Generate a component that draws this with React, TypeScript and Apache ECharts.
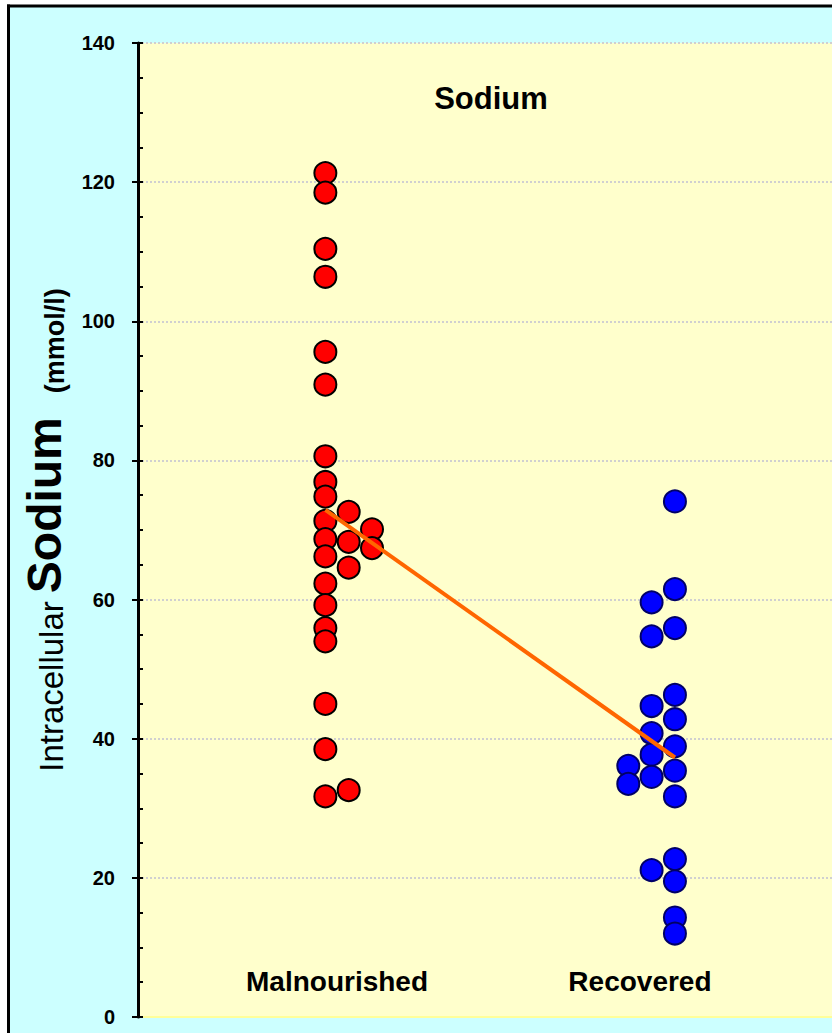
import React, { useEffect, useRef } from 'react';
import * as echarts from 'echarts';

// ---- data ----
const categories = ['Malnourished', 'Recovered'];

// Malnourished: intracellular sodium (mmol/l) and swarm column (0 = left)
const malnourishedValues = [
  121.3, 118.5, 110.4, 106.4, 95.6, 90.9, 80.6, 76.9, 74.8, 71.3, 68.7, 66.2, 62.3,
  59.2, 55.9, 54.0, 45.0, 38.5, 31.7,
  72.6, 68.3, 64.6, 32.6,
  70.1, 67.4,
];
const malnourishedCols = [
  0, 0, 0, 0, 0, 0, 0, 0, 0, 0, 0, 0, 0, 0, 0, 0, 0, 0, 0,
  1, 1, 1, 1,
  2, 2,
];

// Recovered
const recoveredValues = [
  36.1, 33.5,
  59.6, 54.7, 44.7, 40.8, 37.7, 34.5, 21.1,
  74.1, 61.5, 55.9, 46.3, 42.8, 38.9, 35.4, 31.7, 22.7, 19.5, 14.3, 12.0,
];
const recoveredCols = [
  0, 0,
  1, 1, 1, 1, 1, 1, 1,
  2, 2, 2, 2, 2, 2, 2, 2, 2, 2, 2, 2,
];

// mean line (Malnourished -> Recovered)
const meanValues = [72.9, 37.3];
const meanCols = [0, 2];

const FONT = "'Liberation Sans', Arial, Helvetica, sans-serif";
const X_MIN = 0.343;
const X_MAX = 2.634;
const COL_STEP = 0.077;
const xOf = (groupIndex: number, col: number) => groupIndex + 1 + (col - 0.5) * COL_STEP;

export default function App() {
  const ref = useRef<HTMLDivElement>(null);

  useEffect(() => {
    if (!ref.current) return;
    const chart = echarts.init(ref.current, undefined, { renderer: 'svg' });

    const malData = malnourishedValues.map((v, i) => [xOf(0, malnourishedCols[i]), v]);
    const recData = recoveredValues.map((v, i) => [xOf(1, recoveredCols[i]), v]);
    const meanData = meanValues.map((v, i) => [xOf(i, meanCols[i]), v]);

    const option: any = {
      animation: false,
      backgroundColor: '#CCFFFF',
      grid: {
        left: 138,
        right: 0,
        top: 43,
        bottom: 16,
        show: true,
        backgroundColor: '#FFFFCC',
        borderWidth: 0,
      },
      xAxis: {
        type: 'value',
        min: X_MIN,
        max: X_MAX,
        axisLine: { show: true, onZero: false, lineStyle: { color: '#FFFF99', width: 2 } },
        axisTick: { show: false },
        splitLine: { show: false },
        axisLabel: {
          show: true,
          inside: true,
          margin: 22,
          customValues: [1, 2],
          formatter: (v: number) => categories[Math.round(v) - 1] || '',
          fontSize: 28,
          fontWeight: 'bold',
          color: '#000',
          fontFamily: FONT,
        },
      },
      yAxis: [
        {
          type: 'value',
          position: 'left',
          min: 0,
          max: 140,
          interval: 20,
          axisLine: { show: true, lineStyle: { color: '#000', width: 3 } },
          axisTick: { show: true, length: 6, lineStyle: { color: '#000', width: 2 } },
          axisLabel: {
            margin: 23,
            fontSize: 20,
            fontWeight: 'bold',
            color: '#000',
            fontFamily: FONT,
          },
          splitLine: { show: true, lineStyle: { color: '#D0D0D0', width: 2, type: 'dotted' } },
          name: '{a|Intracellular}{b|Sodium}{c|(mmol/l)}',
          nameLocation: 'middle',
          nameGap: 70,
          nameTextStyle: {
            color: '#000',
            fontFamily: FONT,
            rich: {
              a: { fontSize: 33, fontFamily: FONT, color: '#000', verticalAlign: 'bottom' },
              b: {
                fontSize: 48,
                fontWeight: 'bold',
                fontFamily: FONT,
                color: '#000',
                padding: [0, 0, 0, 8],
                verticalAlign: 'bottom',
              },
              c: {
                fontSize: 27,
                fontWeight: 'bold',
                fontFamily: FONT,
                color: '#000',
                padding: [0, 0, 0, 24],
                verticalAlign: 'bottom',
              },
            },
          },
        },
        {
          type: 'value',
          position: 'left',
          min: 0,
          max: 140,
          interval: 20,
          axisLine: { show: false },
          axisTick: { show: true, inside: true, length: 5, lineStyle: { color: '#000', width: 2 } },
          minorTick: { show: true, splitNumber: 4, length: 5, lineStyle: { color: '#000', width: 2 } },
          axisLabel: { show: false },
          splitLine: { show: false },
        },
      ],
      series: [
        {
          type: 'scatter',
          name: categories[0],
          data: malData,
          symbol: 'circle',
          symbolSize: 22,
          itemStyle: { color: '#FF0000', borderColor: '#000000', borderWidth: 2, opacity: 1 },
          z: 3,
        },
        {
          type: 'scatter',
          name: categories[1],
          data: recData,
          symbol: 'circle',
          symbolSize: 22,
          itemStyle: { color: '#0000FF', borderColor: '#000066', borderWidth: 2, opacity: 1 },
          z: 3,
        },
        {
          type: 'line',
          data: meanData,
          symbol: 'none',
          lineStyle: { color: '#FF6600', width: 4 },
          z: 5,
        },
      ],
      graphic: {
        elements: [
          { type: 'rect', shape: { x: 0, y: 0, width: 832, height: 5 }, style: { fill: '#FFFFFF' } },
          { type: 'rect', shape: { x: 0, y: 0, width: 7, height: 1033 }, style: { fill: '#FFFFFF' } },
          { type: 'line', shape: { x1: 7, y1: 6, x2: 832, y2: 6 }, style: { stroke: '#000', lineWidth: 3 } },
          { type: 'line', shape: { x1: 8.5, y1: 4.5, x2: 8.5, y2: 1033 }, style: { stroke: '#000', lineWidth: 3 } },
          {
            type: 'text',
            x: 491,
            y: 98,
            style: {
              text: 'Sodium',
              fontSize: 31,
              fontWeight: 'bold',
              fontFamily: FONT,
              fill: '#000',
              align: 'center',
              verticalAlign: 'middle',
              textAlign: 'center',
              textVerticalAlign: 'middle',
            },
          },
        ],
      },
    };

    chart.setOption(option);
    return () => chart.dispose();
  }, []);

  return (
    <div
      ref={ref}
      style={{ position: 'absolute', left: 0, top: 0, width: 832, height: 1033 }}
    />
  );
}
